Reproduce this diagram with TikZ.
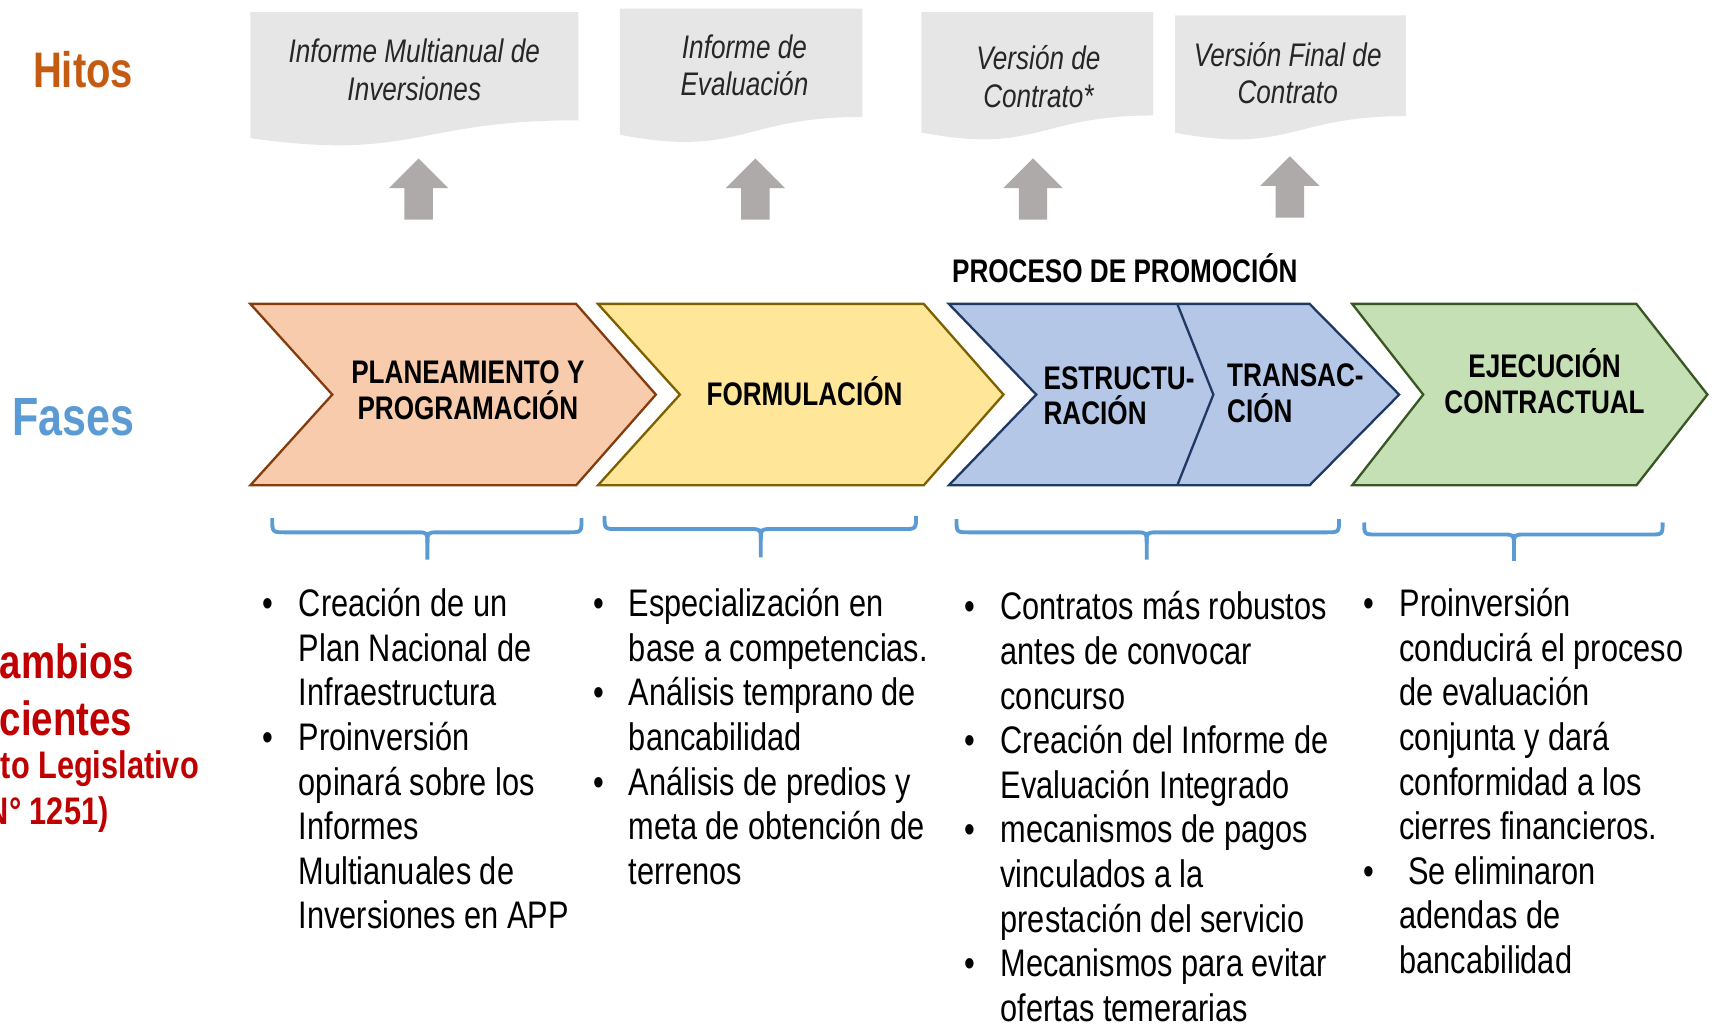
\documentclass[tikz,border=0pt]{standalone}
\usepackage{fontspec}
\setmainfont{Liberation Sans}[FakeStretch=0.8]
\definecolor{naranja}{HTML}{C55A11}
\definecolor{azulfases}{HTML}{5B9BD5}
\definecolor{rojo}{HTML}{C00000}
\definecolor{grisdoc}{HTML}{E6E6E6}
\definecolor{grisflecha}{HTML}{AEAAAA}
\definecolor{durazno}{HTML}{F8CBAD}
\definecolor{duraznoborde}{HTML}{843C0C}
\definecolor{amarillo}{HTML}{FFE699}
\definecolor{amarilloborde}{HTML}{7F6000}
\definecolor{celeste}{HTML}{B4C7E7}
\definecolor{celesteborde}{HTML}{1F3864}
\definecolor{verde}{HTML}{C5E0B4}
\definecolor{verdeborde}{HTML}{385723}
\newcommand{\fuente}[2]{\fontsize{#1}{#2}\selectfont}

\begin{document}
\begin{tikzpicture}[x=0.1mm, y=-0.1mm,
    hito/.style={fill=grisdoc},
    flecha/.style={fill=grisflecha},
    llave/.style={draw=azulfases, line width=1pt},
    fase/.style={line width=0.6pt, line join=miter},
    txtfase/.style={font=\bfseries\fuente{8.5}{9.3}, align=center, inner sep=0pt},
    txthito/.style={font=\itshape\fuente{8.5}{9.7}, align=center, inner sep=0pt, text=black!85},
    lista/.style={anchor=base west, inner sep=0pt, font=\fuente{10}{11.62}}]

\useasboundingbox (0,0) rectangle (1568,941);

% Hitos (documentos)
\foreach \xa/\xb/\yt/\hh in {229/529/11/123.5, 567/789/8/123.4, 843/1055/11/118, 1075/1286/14/115}
    \fill[hito] (\xa,\yt) -- (\xb,\yt) -- (\xb,\yt+0.802*\hh)
        .. controls ({(\xa+\xb)/2},\yt+0.802*\hh) and ({(\xa+\xb)/2},\yt+1.1075*\hh) .. (\xa,\yt+0.934*\hh) -- cycle;

\node[txthito] (imi) at (379,64) {Informe Multianual de\\Inversiones};
\node[txthito] (iev) at (681,60) {Informe de\\Evaluación};
\node[txthito] (vco) at (950,70) {Versión de\\Contrato*};
\node[txthito] (vfc) at (1178,67) {Versión Final de\\Contrato};

% flechas grises
\foreach \x/\t in {383/145, 691/145, 945/145, 1180/143}
    \fill[flecha] (\x,\t) -- (\x+27,\t+27) -- (\x+13,\t+27) -- (\x+13,\t+56)
        -- (\x-13,\t+56) -- (\x-13,\t+27) -- (\x-27,\t+27) -- cycle;

% Fases
\filldraw[fase, fill=durazno, draw=duraznoborde] (229,278) -- (527,278) -- (600,361) -- (527,444) -- (229,444) -- (304,361) -- cycle;
\filldraw[fase, fill=amarillo, draw=amarilloborde] (547,278) -- (845,278) -- (918,361) -- (845,444) -- (547,444) -- (622,361) -- cycle;
\filldraw[fase, fill=celeste, draw=celesteborde] (868,278) -- (1198,278) -- (1280,361) -- (1198,444) -- (868,444) -- (948,361) -- cycle;
\draw[fase, draw=celesteborde] (1077,278) -- (1110,361) -- (1077,444);
\filldraw[fase, fill=verde, draw=verdeborde] (1237,278) -- (1497,278) -- (1562,361) -- (1497,444) -- (1237,444) -- (1302,361) -- cycle;

\node[txtfase] (pla) at (428,357) {PLANEAMIENTO Y\\PROGRAMACIÓN};
\node[txtfase] (for) at (736,358) {FORMULACIÓN};
\node[txtfase, anchor=west, align=left] (est) at (954,362) {ESTRUCTU-\\RACIÓN};
\node[txtfase, anchor=west, align=left] (tra) at (1122,360) {TRANSAC-\\CIÓN};
\node[txtfase] (eje) at (1413,349) {EJECUCIÓN\\CONTRACTUAL};
\node[txtfase] (pro) at (1029,245) {PROCESO DE PROMOCIÓN};

% titulos a la izquierda
\node[font=\bfseries\fuente{13}{15}, text=naranja, inner sep=0pt] (hit) at (76,64) {Hitos};
\node[font=\bfseries\fuente{14}{16}, text=azulfases, inner sep=0pt] (fas) at (67,382) {Fases};
\node[font=\bfseries\fuente{12.5}{15}, text=rojo, inner sep=0pt, anchor=west] (cam) at (-1,605) {ambios};
\node[font=\bfseries\fuente{12.5}{15}, text=rojo, inner sep=0pt, anchor=west] (rec) at (-1,657) {cientes};
\node[font=\bfseries\fuente{10}{12}, text=rojo, inner sep=0pt, anchor=west] (dle) at (0,703) {to Legislativo};
\node[font=\bfseries\fuente{10}{12}, text=rojo, inner sep=0pt, anchor=east] (num) at (100,745) {N° 1251)};

% llaves
\foreach \l/\c/\r/\t/\h/\b in {249/391/532/474/487/512, 553/696/838/472/484/510, 875/1049/1225/475/487/512, 1248/1385/1521/478/489/513} {
    \draw[llave] (\l,\t) .. controls (\l,\h) .. (\l+12,\h) -- (\c-10,\h) .. controls (\c,\h) .. (\c,\h+10) -- (\c,\b);
    \draw[llave] (\r,\t) .. controls (\r,\h) .. (\r-12,\h) -- (\c+10,\h) .. controls (\c,\h) .. (\c,\h+10);
}

% listas de cambios
\node[lista] (l1) at (239,564) {\begin{tabular}[t]{@{}l@{\hspace{6.8pt}}l@{}}
\textbullet & Creación de un\\
 & Plan Nacional de\\
 & Infraestructura\\
\textbullet & Proinversión\\
 & opinará sobre los\\
 & Informes\\
 & Multianuales de\\
 & Inversiones en APP
\end{tabular}};
\node[lista] (l2) at (542,564) {\begin{tabular}[t]{@{}l@{\hspace{6.5pt}}l@{}}
\textbullet & Especialización en\\
 & base a competencias.\\
\textbullet & Análisis temprano de\\
 & bancabilidad\\
\textbullet & Análisis de predios y\\
 & meta de obtención de\\
 & terrenos
\end{tabular}};
\node[lista] (l3) at (882,567) {\begin{tabular}[t]{@{}l@{\hspace{6.5pt}}l@{}}
\textbullet & Contratos más robustos\\
 & antes de convocar\\
 & concurso\\
\textbullet & Creación del Informe de\\
 & Evaluación Integrado\\
\textbullet & mecanismos de pagos\\
 & vinculados a la\\
 & prestación del servicio\\
\textbullet & Mecanismos para evitar\\
 & ofertas temerarias
\end{tabular}};
\node[lista] (l4) at (1247,564) {\begin{tabular}[t]{@{}l@{\hspace{6.5pt}}l@{}}
\textbullet & Proinversión\\
 & conducirá el proceso\\
 & de evaluación\\
 & conjunta y dará\\
 & conformidad a los\\
 & cierres financieros.\\
\textbullet & \ Se eliminaron\\
 & adendas de\\
 & bancabilidad
\end{tabular}};

\end{tikzpicture}
\end{document}
